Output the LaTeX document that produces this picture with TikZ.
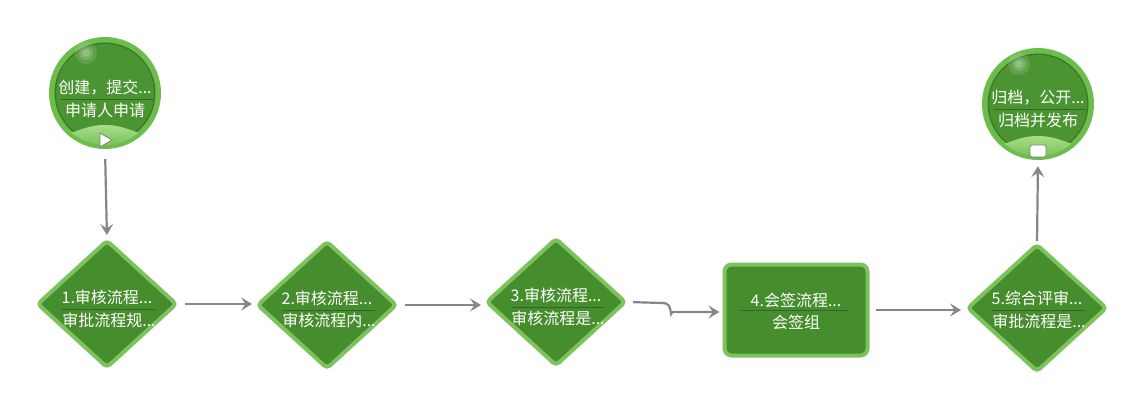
\documentclass[tikz,border=0pt]{standalone}
\usepackage{fontspec}
\setmainfont{Noto Sans CJK SC}
\usetikzlibrary{shapes.geometric,arrows.meta,calc}
\definecolor{gfill}{HTML}{468D2D}
\definecolor{gborder}{HTML}{7CC35D}
\definecolor{gline}{HTML}{878787}
\definecolor{gsep}{HTML}{36632A}
\definecolor{ringc}{HTML}{6DBD4D}
\definecolor{ringdark}{HTML}{3C7A27}
\definecolor{cfill}{HTML}{4A9531}
\definecolor{bumptop}{HTML}{A8DE88}
\definecolor{bumpbot}{HTML}{62B545}
\newcommand\circdeco[1]{%
  \begin{scope}[shift={(#1.center)}]
    \fill[ringc] (0,0) circle[radius=56];
    \fill[ringdark] (0,0) circle[radius=50.5];
    \fill[cfill] (0,0) circle[radius=49];
    \begin{scope}
      \clip (0,0) circle[radius=52];
      \shade[top color=bumptop, bottom color=bumpbot] (-60,62) -- (-60,44) .. controls (-32,44) and (-24,32) .. (0,32) .. controls (24,32) and (32,44) .. (60,44) -- (60,62) -- cycle;
    \end{scope}
    \fill[white, opacity=0.12] (-19,-40) circle[radius=11];
    \fill[white, opacity=0.15] (-19,-40) circle[radius=7];
    \fill[white, opacity=0.2] (-19,-40) circle[radius=4];
  \end{scope}}
\begin{document}
\begin{tikzpicture}[x=1pt,y=-1pt,
  dia/.style={diamond, draw=gborder, line width=4pt, fill=gfill, minimum width=140pt, minimum height=128pt, inner sep=0pt, rounded corners=4pt},
  boxst/.style={rectangle, draw=gborder, line width=4pt, fill=gfill, minimum width=143pt, minimum height=91pt, inner sep=0pt, rounded corners=7pt},
  rnd/.style={circle, minimum size=112pt, inner sep=0pt},
  lbl/.style={text=white, font=\fontsize{16}{19}\selectfont, inner sep=0pt},
  conn/.style={draw=gline, line width=2.2pt, -{Stealth[length=11pt,width=13pt,inset=4.5pt]}},
  sepl/.style={draw=gsep, line width=0.8pt}
]
\useasboundingbox (0,0) rectangle (1147,406);
\fill[white] (0,0) rectangle (1147,406);

% start and end circles
\node[rnd] (s) at (105,93) {};
\circdeco{s}
\node[rnd] (e) at (1038,104) {};
\circdeco{e}
\draw[fill=white, draw=gray, line width=0.8pt] ($(s)+(-5,40)$) -- ($(s)+(-5,54)$) -- ($(s)+(7,47)$) -- cycle;
\draw[fill=white, draw=gray, line width=0.8pt, rounded corners=1.5pt] ($(e)+(-8,41)$) rectangle ($(e)+(8,53)$);

% diamonds and box
\node[dia] (d1) at (107,304) {};
\node[dia] (d2) at (327,305) {};
\node[dia] (d3) at (556,302) {};
\node[boxst] (b4) at (796,310) {};
\node[dia] (d5) at (1037,308) {};

% labels
\node[lbl] (s1) at ($(s)+(0,-5)$) {创建，提交...};
\node[lbl] (s2) at ($(s)+(0,17)$) {申请人申请};
\draw[sepl] ($(s)+(-44,6)$) -- ($(s)+(48,6)$);
\node[lbl] (e1) at ($(e)+(0,-6)$) {归档，公开...};
\node[lbl] (e2) at ($(e)+(0,16)$) {归档并发布};
\draw[sepl] ($(e)+(-44,5)$) -- ($(e)+(48,5)$);

\node[lbl] (t11) at ($(d1)+(0,-7)$) {1.审核流程...};
\node[lbl] (t12) at ($(d1)+(2,16)$) {审批流程规...};
\draw[sepl] ($(d1)+(-45,5)$) -- ($(d1)+(48,5)$);
\node[lbl] (t21) at ($(d2)+(0,-7)$) {2.审核流程...};
\node[lbl] (t22) at ($(d2)+(2,15)$) {审核流程内...};
\draw[sepl] ($(d2)+(-45,5)$) -- ($(d2)+(48,5)$);
\node[lbl] (t31) at ($(d3)+(0,-7)$) {3.审核流程...};
\node[lbl] (t32) at ($(d3)+(2,16)$) {审核流程是...};
\draw[sepl] ($(d3)+(-45,5)$) -- ($(d3)+(48,5)$);
\node[lbl] (t41) at ($(b4)+(0,-10)$) {4.会签流程...};
\node[lbl] (t42) at ($(b4)+(0,12)$) {会签组};
\draw[sepl] ($(b4)+(-55,0)$) -- ($(b4)+(53,0)$);
\node[lbl] (t51) at ($(d5)+(0,-10)$) {5.综合评审...};
\node[lbl] (t52) at ($(d5)+(2,13)$) {审批流程是...};
\draw[sepl] ($(d5)+(-45,2)$) -- ($(d5)+(48,2)$);

% connectors
\coordinate (j1) at (662,303);
\coordinate (j2) at (680,312);
\draw[conn, shorten <=10pt, shorten >=3pt] (s.south) -- (d1.north);
\draw[conn, shorten <=6pt, shorten >=3pt] (d1.east) -- (d2.west |- d1.east);
\draw[conn, shorten <=6pt, shorten >=3pt] (d2.east) -- (d3.west |- d2.east);
\draw[conn, shorten <=5pt, shorten >=3pt] (d3.east) -- (j1) .. controls (669,303) and (670,306) .. (671,314) .. controls (672,311) and (675,312) .. (j2) -- (b4.west |- j2);
\draw[conn, shorten <=6pt, shorten >=4pt] (b4.east) -- (b4.east -| d5.west);
\draw[conn, shorten <=1pt, shorten >=6pt] (d5.north) -- (e.south);
\end{tikzpicture}
\end{document}
